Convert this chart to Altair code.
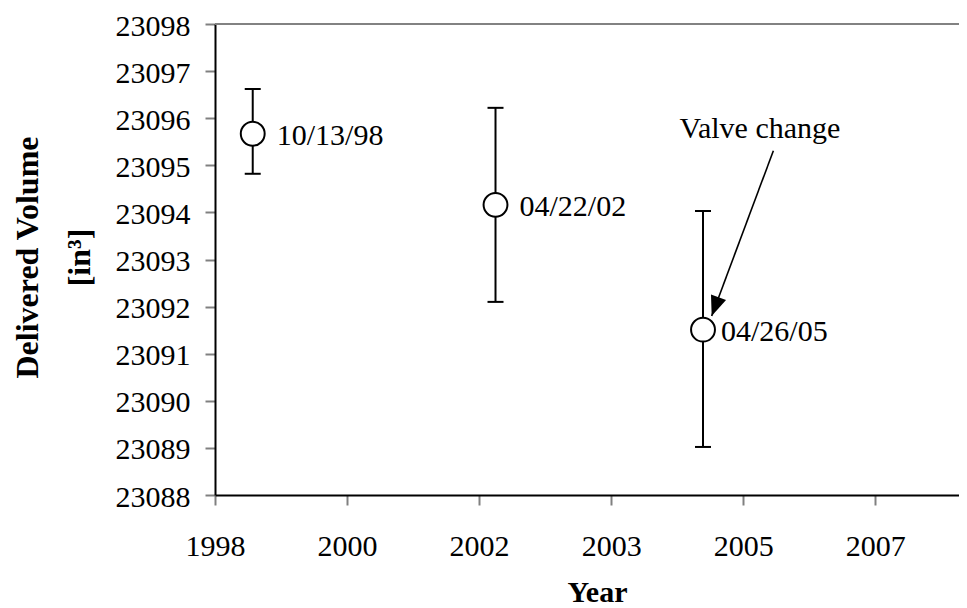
import altair as alt
import pandas as pd

# ---- data ----
dates = ["1998-10-13", "2002-04-22", "2005-04-26"]
labels = ["10/13/98", "04/22/02", "04/26/05"]
volume = [23095.67, 23094.16, 23091.51]
upper = [23096.62, 23096.22, 23094.03]
lower = [23094.82, 23092.10, 23089.02]

# x axis (Excel date axis: tick every 700 days)
tick_dates = ["1998-03-27", "2000-02-25", "2002-01-25", "2003-12-26", "2005-11-25", "2007-10-26"]
x_domain = ["1998-03-27", "2009-01-12"]
y_ticks = [23088, 23089, 23090, 23091, 23092, 23093, 23094, 23095, 23096, 23097, 23098]

# annotation
note_text = ["Valve change"]
note_text_pos = ["2006-02-22"]
note_text_val = [23095.59]
arrow_from = ["2006-05-04"]
arrow_from_val = [23095.31]
arrow_to = ["2005-06-11"]
arrow_to_val = [23091.80]


def ms(lst):
    return [int(pd.Timestamp(d, tz="UTC").value // 10**6) for d in lst]


df = pd.DataFrame({"t": ms(dates), "v": volume, "hi": upper, "lo": lower,
                   "lab": labels, "i": [0, 1, 2]})
arrow_df = pd.DataFrame({"t": ms(arrow_from), "v": arrow_from_val,
                         "t2": ms(arrow_to), "v2": arrow_to_val})
note_df = pd.DataFrame({"t": ms(note_text_pos), "v": note_text_val, "txt": note_text})

FONT = "Liberation Serif"
W, H = 744, 471

xscale = alt.Scale(type="utc", domain=ms(x_domain), nice=False)
yscale = alt.Scale(domain=[23088, 23098], nice=False, zero=False)

xaxis = alt.Axis(values=ms(tick_dates), labelExpr="utcFormat(datum.value, '%Y')",
                 labelFont=FONT, labelFontSize=30, labelColor="black",
                 labelBaseline="alphabetic", labelPadding=50, labelFlush=False,
                 labelOverlap=False, tickColor="#808080", tickSize=10, tickWidth=2,
                 domainColor="black", domainWidth=2, grid=False,
                 title="Year", titleFont=FONT, titleFontSize=30, titleFontWeight="bold",
                 titleColor="black", titleX=382, titleY=106, titleAlign="center",
                 titleBaseline="alphabetic")
yaxis = alt.Axis(values=y_ticks, format="d",
                 labelFont=FONT, labelFontSize=30, labelColor="black",
                 labelBaseline="alphabetic", labelOffset=11, labelPadding=15,
                 labelFlush=False, labelOverlap=False,
                 tickColor="#808080", tickSize=10, tickWidth=2,
                 domainColor="black", domainWidth=2, grid=False,
                 title=["Delivered Volume", "[in³]"], titleFont=FONT, titleFontSize=32,
                 titleFontWeight="bold", titleColor="black", titleX=-178, titleY=233,
                 titleAngle=270, titleAlign="center", titleBaseline="alphabetic",
                 titleLineHeight=52)


def X(f="t"):
    return alt.X(f"{f}:T", scale=xscale, axis=xaxis)


def Y(f="v"):
    return alt.Y(f"{f}:Q", scale=yscale, axis=yaxis)


base = alt.Chart(df)

top_border = base.mark_rule(color="#808080", strokeWidth=1.3).encode(
    y=alt.datum(23098), x=alt.value(0), x2=alt.value(W))

err = base.mark_rule(color="black", strokeWidth=2).encode(x=X(), y=Y("lo"), y2="hi:Q")
cap_hi = base.mark_tick(orient="horizontal", size=16, thickness=2, color="black",
                        opacity=1).encode(x=X(), y=Y("hi"))
cap_lo = base.mark_tick(orient="horizontal", size=16, thickness=2, color="black",
                        opacity=1).encode(x=X(), y=Y("lo"))
pts = base.mark_point(shape="circle", filled=True, fill="white", stroke="black",
                      strokeWidth=2, size=570, opacity=1).encode(x=X(), y=Y())

txt_style = dict(align="left", baseline="alphabetic", font=FONT, fontSize=30, color="black")
lab12 = base.transform_filter("datum.i < 2").mark_text(dx=24, dy=11.5, **txt_style).encode(
    x=X(), y=Y(), text="lab:N")
lab3 = base.transform_filter("datum.i == 2").mark_text(dx=18, dy=11.5, **txt_style).encode(
    x=X(), y=Y(), text="lab:N")

arrow_line = alt.Chart(arrow_df).mark_rule(color="black", strokeWidth=1.6).encode(
    x=X(), y=Y(), x2="t2:T", y2="v2:Q")
arrow_head = alt.Chart(arrow_df).mark_point(
    shape="M0,0L-0.8,-2L0.8,-2Z", filled=True, color="black", size=400, angle=20,
    opacity=1).encode(x=X("t2"), y=Y("v2"))
note = alt.Chart(note_df).mark_text(align="center", baseline="alphabetic", font=FONT,
                                    fontSize=30, color="black").encode(
    x=X(), y=Y(), text="txt:N")

chart = alt.layer(top_border, err, cap_hi, cap_lo, pts, lab12, lab3,
                  arrow_line, arrow_head, note).properties(
    width=W, height=H,
    autosize=alt.AutoSizeParams(type="none"),
    padding={"left": 207, "top": 16, "right": 0, "bottom": 116},
    background="white",
).configure_view(stroke=None)

chart.save("out.html", embed_options={"renderer": "svg", "actions": False})
